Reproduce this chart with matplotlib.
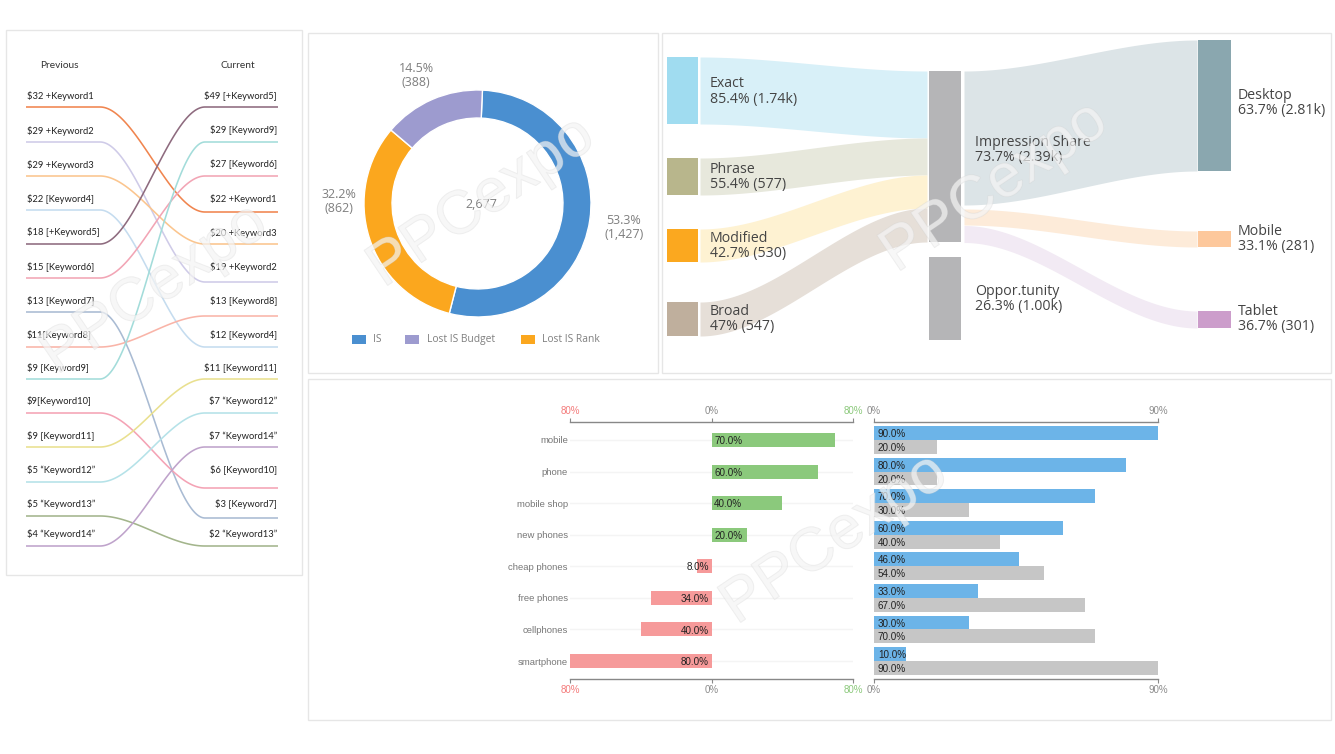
import numpy as np
import matplotlib
matplotlib.use("Agg")
import matplotlib.pyplot as plt
from matplotlib.patches import Rectangle
import matplotlib.patheffects as pe

W, H = 1335, 754
plt.rcParams['font.family'] = ['Open Sans', 'DejaVu Sans']

# ---------- slope chart data ----------
keywords = ["KW1", "KW2", "KW3", "KW4", "KW5", "KW6", "KW7", "KW8", "KW9", "KW10", "KW11", "KW12", "KW13", "KW14"]
prev_labels = ["$32 +Keyword1", "$29 +Keyword2", "$29 +Keyword3", "$22 [Keyword4]", "$18 [+Keyword5]",
               "$15 [Keyword6]", "$13 [Keyword7]", "$11[Keyword8]", "$9 [Keyword9]", "$9[Keyword10]",
               "$9 [Keyword11]", "$5 “Keyword12”", "$5 “Keyword13”", "$4 “Keyword14”"]
curr_labels = ["$49 [+Keyword5]", "$29 [Keyword9]", "$27 [Keyword6]", "$22 +Keyword1", "$20 +Keyword3",
               "$19 +Keyword2", "$13 [Keyword8]", "$12 [Keyword4]", "$11 [Keyword11]", "$7 “Keyword12”",
               "$7 “Keyword14”", "$6 [Keyword10]", "$3 [Keyword7]", "$2 “Keyword13”"]
curr_order = ["KW5", "KW9", "KW6", "KW1", "KW3", "KW2", "KW8", "KW4", "KW11", "KW12", "KW14", "KW10", "KW7", "KW13"]
slope_colors = ["#F0854F", "#CFCBE8", "#FBC58E", "#C5DCEF", "#8E6B7F", "#F2A5B5", "#A9BBD3",
                "#F9B4A8", "#A3DCDA", "#F4A3B5", "#E9E08F", "#B5E2E8", "#A3B58C", "#BFA3CB"]

# ---------- donut data ----------
donut_names = ["IS", "Lost IS Rank", "Lost IS Budget"]
donut_values = [1427, 862, 388]
donut_colors = ["#4A8FD0", "#FBA71E", "#9D9BCF"]

# ---------- sankey data (band thickness) ----------
source_names = ["Exact\n85.4% (1.74k)", "Phrase\n55.4% (577)", "Modified\n42.7% (530)", "Broad\n47% (547)"]
source_bands = [67, 37, 33, 34]
source_node = ["#A0DCF0", "#B8B68C", "#FBA81F", "#BFAF9D"]
source_flow = ["#D8F0F8", "#E7E8DC", "#FEF2D2", "#E6DFD8"]
target_names = ["Desktop\n63.7% (2.81k)", "Mobile\n33.1% (281)", "Tablet\n36.7% (301)"]
target_bands = [134, 16, 17]
target_node = ["#8AA7AF", "#FDC89C", "#CC9DCB"]
target_flow = ["#DCE4E7", "#FDEBD9", "#F2EAF4"]
opportunity_band = 83

# ---------- bar data ----------
categories = ["mobile", "phone", "mobile shop", "new phones", "cheap phones", "free phones", "cellphones", "smartphone"]
change = [70, 60, 40, 20, -8, -34, -40, -80]
blue = [90, 80, 70, 60, 46, 33, 30, 10]
grey = [20, 20, 30, 40, 54, 67, 70, 90]

# ---------- layout ----------
fig = plt.figure(figsize=(W / 100, H / 100), dpi=100, facecolor="white")

def axpx(x0, y0, x1, y1, **kw):
    return fig.add_axes([x0 / W, 1 - y1 / H, (x1 - x0) / W, (y1 - y0) / H], **kw)

bg = axpx(0, 0, W, H)
bg.set_xlim(0, W); bg.set_ylim(H, 0); bg.axis("off")

for x0, y0, x1, y1 in [(6, 30, 302, 575), (308, 33, 658, 373), (662, 33, 1331, 373), (308, 379, 1331, 720)]:
    bg.add_patch(Rectangle((x0, y0), x1 - x0, y1 - y0, fc="white", ec="#E6E6E6", lw=1))

def sigmoid(n=120):
    t = np.linspace(0, 1, n)
    return t, t * t * (3 - 2 * t)

# ---------- slope ----------
PREV_LINE_Y = [107, 142, 176, 210, 244, 278, 312, 347, 379, 413, 447, 482, 516, 546]
CURR_LINE_Y = [107, 142, 176, 212, 244, 282, 316, 347, 379, 413, 447, 488, 518, 546]
PREV_TEXT_Y = [96, 131, 165, 199, 232, 267, 301, 335, 368, 401, 436, 470, 504, 534]
CURR_TEXT_Y = [96, 130, 164, 199, 233, 267, 301, 335, 368, 401, 436, 470, 504, 534]
SL, SC0, SC1, SR = 26, 100, 205, 278
slope_font = ['Lato', 'DejaVu Sans']
bg.text(59, 65, "Previous", ha="center", va="center", fontsize=7.3, color="#333333", family=slope_font)
bg.text(238, 65, "Current", ha="center", va="center", fontsize=7.3, color="#333333", family=slope_font)
t, s = sigmoid()
for i, k in enumerate(keywords):
    y0 = PREV_LINE_Y[i]
    y1 = CURR_LINE_Y[curr_order.index(k)]
    xs = np.r_[SL, SC0 + t * (SC1 - SC0), SR]
    ys = np.r_[y0, y0 + s * (y1 - y0), y1]
    bg.plot(xs, ys, color=slope_colors[i], lw=1.15, solid_capstyle="butt")
    bg.text(27, PREV_TEXT_Y[i], prev_labels[i], ha="left", va="center", fontsize=6.75, color="#222222", family=slope_font)
for i, lab in enumerate(curr_labels):
    bg.text(277, CURR_TEXT_Y[i], lab, ha="right", va="center", fontsize=6.75, color="#222222", family=slope_font)

# ---------- donut ----------
ad = axpx(364, 90, 591, 317)
ad.pie(donut_values, colors=donut_colors, startangle=87.5, counterclock=False, radius=1,
       wedgeprops=dict(width=0.247, edgecolor="white", linewidth=1))
ad.set_xlim(-1, 1); ad.set_ylim(-1, 1); ad.set_aspect("equal")
gt = dict(ha="center", va="center", fontsize=9, color="#7F7F7F", linespacing=1.1)
bg.text(481, 204, f"{sum(donut_values):,}", **gt)
bg.text(624, 228, "53.3%\n(1,427)", **gt)
bg.text(339, 202, "32.2%\n(862)", **gt)
bg.text(416, 75, "14.5%\n(388)", **gt)
for name, col, xs, xt in [("IS", donut_colors[0], 352, 373), ("Lost IS Budget", donut_colors[2], 405, 427),
                          ("Lost IS Rank", donut_colors[1], 521, 542)]:
    bg.add_patch(Rectangle((xs, 335), 14, 9, fc=col, ec="none"))
    bg.text(xt, 339.5, name, ha="left", va="center", fontsize=7.4, color="#7F7F7F")

# ---------- sankey ----------
def ribbon(x0, x1, top0, th0, top1, th1, color):
    t, s = sigmoid()
    x = x0 + t * (x1 - x0)
    top = top0 + s * (top1 - top0)
    bot = top0 + th0 + s * (top1 + th1 - top0 - th0)
    bg.fill_between(x, top, bot, color=color, lw=0)

SOURCE_TOP = [57, 158, 229, 302]
MID_TOP = 71
cur = MID_TOP
for i, b in enumerate(source_bands):
    bg.add_patch(Rectangle((667, SOURCE_TOP[i]), 31, b, fc=source_node[i], ec="none"))
    ribbon(700, 927, SOURCE_TOP[i], b, cur, b, source_flow[i])
    cur += b
mid_total = cur - MID_TOP
bg.add_patch(Rectangle((929, MID_TOP), 32, mid_total, fc="#B5B5B7", ec="none"))
OPP_TOP = 257
bg.add_patch(Rectangle((929, OPP_TOP), 32, opportunity_band, fc="#B5B5B7", ec="none"))

TARGET_TOP = [40, 231, 311]
TARGET_LEFT_TOP = [71, 209, 225.5]
TARGET_NODE_H = [131, 16, 17]
for i, b in enumerate(target_bands):
    ribbon(964, 1197, TARGET_LEFT_TOP[i], b, TARGET_TOP[i], TARGET_NODE_H[i], target_flow[i])
    bg.add_patch(Rectangle((1198, TARGET_TOP[i]), 33, TARGET_NODE_H[i], fc=target_node[i], ec="none"))

sk = dict(ha="left", va="center", fontsize=10.2, color="#444444", linespacing=1.05)
for name, y in zip(source_names, [91.5, 177, 246, 319]):
    bg.text(710, y, name, **sk)
bg.text(975, 150, "Impression Share\n73.7% (2.39k)", **sk)
bg.text(975, 299, "Oppor.tunity\n26.3% (1.00k)", **sk)
for name, y in zip(target_names, [103, 239, 319]):
    bg.text(1238, y, name, **sk)

# ---------- bars ----------
bar_font = ['Liberation Sans', 'DejaVu Sans']
def style_bar_axis(ax, ticks, labels, colors):
    ax.set_ylim(7.57, -0.57)
    ax.patch.set_alpha(0)
    for sp in ("left", "right"):
        ax.spines[sp].set_visible(False)
    for sp in ("top", "bottom"):
        ax.spines[sp].set_color("#888888"); ax.spines[sp].set_linewidth(1)
    ax.set_xticks(ticks)
    ax.set_xticklabels(labels, fontsize=7, family=bar_font)
    ax.tick_params(axis="x", top=True, labeltop=True, bottom=True, labelbottom=True,
                   length=3, width=0.8, color="#888888", pad=1.5)
    for tk, c in zip(ax.xaxis.get_major_ticks(), colors):
        tk.label2.set_color(c); tk.label1.set_color(c)

y = np.arange(len(categories))
a1 = axpx(570, 422, 853, 679)
a1.set_xlim(-80, 80)
a1.barh(y, change, height=0.44, color=["#8BC97C" if v > 0 else "#F69A9A" for v in change], zorder=2)
a1.set_yticks(y); a1.set_yticklabels(categories, fontsize=6.8, color="#777777", family=bar_font)
a1.tick_params(axis="y", length=0, pad=1.5)
a1.grid(axis="y", color="#F4F4F4", lw=1, zorder=0)
a1.set_axisbelow(True)
style_bar_axis(a1, [-80, 0, 80], ["80%", "0%", "80%"], ["#F47C7C", "#8C8C8C", "#8CC97C"])
for yi, v in zip(y, change):
    if v > 0:
        a1.annotate(f"{abs(v):.1f}%", (0, yi), xytext=(2.0, -0.8), textcoords="offset points", ha="left", va="center",
                    fontsize=7.1, color="#222222", family=bar_font, zorder=3)
    else:
        a1.annotate(f"{abs(v):.1f}%", (0, yi), xytext=(-2.0, -0.8), textcoords="offset points", ha="right", va="center",
                    fontsize=7.1, color="#222222", family=bar_font, zorder=3)

a2 = axpx(874, 422, 1158, 679)
a2.set_xlim(0, 90)
a2.barh(y - 0.22, blue, height=0.44, color="#6CB4E8", zorder=2)
a2.barh(y + 0.22, grey, height=0.44, color="#C6C6C6", zorder=2)
a2.set_yticks([])
style_bar_axis(a2, [0, 90], ["0%", "90%"], ["#8C8C8C", "#8C8C8C"])
for yi, b, g in zip(y, blue, grey):
    for off, v in ((-0.22, b), (0.22, g)):
        a2.annotate(f"{v:.1f}%", (0, yi + off), xytext=(2.8, -0.8), textcoords="offset points", ha="left", va="center",
                    fontsize=7.1, color="#222222", family=bar_font, zorder=3)

# ---------- watermarks ----------
over = axpx(0, 0, W, H)
over.set_xlim(0, W); over.set_ylim(H, 0); over.axis("off"); over.patch.set_alpha(0)
for cx, cy in [(155, 290), (482, 203), (995, 188), (835, 540)]:
    over.text(cx, cy, "PPCexpo", rotation=34, rotation_mode="anchor", ha="center", va="center", fontsize=44,
              color=(0.96, 0.96, 0.96, 0.45), family=['Liberation Sans', 'DejaVu Sans'],
              path_effects=[pe.withStroke(linewidth=0.8, foreground=(0.82, 0.82, 0.82, 0.35))])

fig.savefig("out.png", dpi=100)
